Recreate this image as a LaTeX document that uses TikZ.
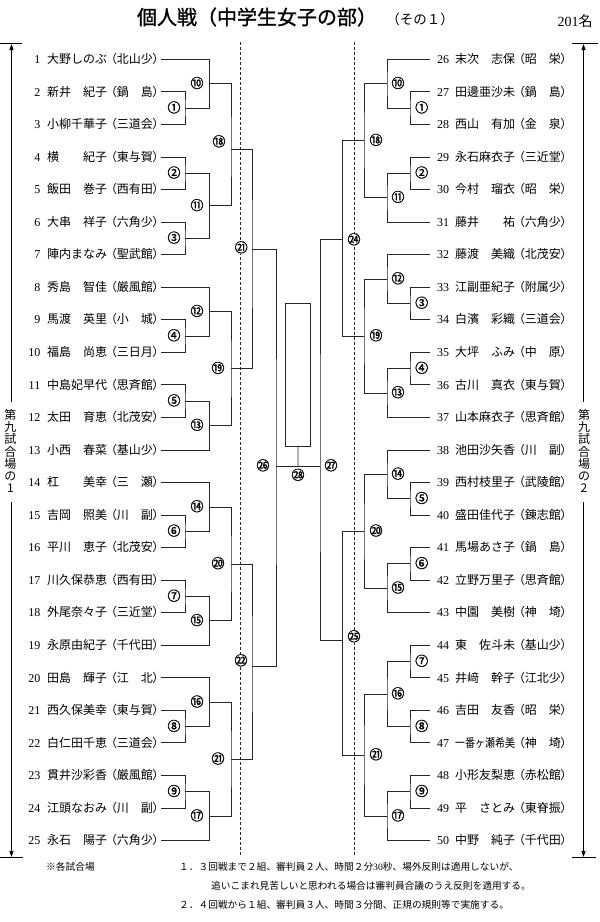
\documentclass[tikz,border=0pt]{standalone}
\usepackage{fontspec}
\usepackage{graphicx}
\setmainfont{Liberation Serif}
\newfontfamily\jp{Noto Sans CJK JP}
\newfontfamily\jpp[RawFeature=+palt]{Noto Sans CJK JP}
\newfontfamily\jpl[FakeBold=1.2]{Noto Sans CJK JP}
\usetikzlibrary{arrows.meta}
\newcommand{\clb}[1]{{\jpp （}#1{\jpp ）}}
\begin{document}
\begin{tikzpicture}[x=1pt,y=-1pt,
  br/.style={line width=0.8pt,black!85},
  dsh/.style={line width=0.8pt,black!85,dash pattern=on 3pt off 2pt},
  num/.style={font=\fontsize{12}{12}\selectfont,inner sep=0pt,text height=8.5pt,text depth=0pt},
  nm/.style={font=\jp\fontsize{12}{12}\selectfont,inner sep=0pt,text height=9.5pt,text depth=1pt},
  lbl/.style={font=\jpl\fontsize{13}{13}\selectfont,inner sep=-2pt,circle,fill=white,text height=10pt,text depth=1.5pt},
  arr/.style={line width=0.8pt,black,-{Triangle[length=6pt,width=4pt]}}]
\useasboundingbox (0,0) rectangle (600,922);

% title
\node[font=\jpl\fontsize{20}{20}\selectfont,inner sep=0pt] (title) at (257,17) {個人戦（中学生女子の部）};
\node[font=\jp\fontsize{13.5}{13.5}\selectfont,inner sep=0pt] (sub) at (420,19) {（その１）};
\node[font=\jp\fontsize{14}{14}\selectfont,inner sep=0pt] (cnt) at (575,21) {{\rmfamily 201}名};

% left entries
\foreach \i/\n/\c in {1/大野しのぶ/北山少,2/新井　紀子/鍋　島,3/小柳千華子/三道会,4/横　　紀子/東与賀,5/飯田　巻子/西有田,6/大串　祥子/六角少,7/陣内まなみ/聖武館,8/秀島　智佳/厳風館,9/馬渡　英里/小　城,10/福島　尚恵/三日月,11/中島妃早代/思斉館,12/太田　育恵/北茂安,13/小西　春菜/基山少,14/杠　　美幸/三　瀬,15/吉岡　照美/川　副,16/平川　恵子/北茂安,17/川久保恭恵/西有田,18/外尾奈々子/三近堂,19/永原由紀子/千代田,20/田島　輝子/江　北,21/西久保美幸/東与賀,22/白仁田千恵/三道会,23/貫井沙彩香/厳風館,24/江頭なおみ/川　副,25/永石　陽子/六角少}{
  \pgfmathsetmacro\y{59.3+(\i-1)*32.55}
  \node[num,anchor=east] (nl\i) at (40.5,\y) {\i};
  \node[nm,anchor=west] (tl\i) at (47,\y) {\n};
  \node[nm,anchor=east] (cl\i) at (159,\y) {\clb{\c}};
  \coordinate (L\i) at (160.5,\y);
}
% right entries
\foreach \i/\n/\c in {26/末次　志保/昭　栄,27/田邊亜沙未/鍋　島,28/西山　有加/金　泉,29/永石麻衣子/三近堂,30/今村　瑠衣/昭　栄,31/藤井　　祐/六角少,32/藤渡　美織/北茂安,33/江副亜紀子/附属少,34/白濱　彩織/三道会,35/大坪　ふみ/中　原,36/古川　真衣/東与賀,37/山本麻衣子/思斉館,38/池田沙矢香/川　副,39/西村枝里子/武陵館,40/盛田佳代子/錬志館,41/馬場あさ子/鍋　島,42/立野万里子/思斉館,43/中園　美樹/神　埼,44/東　佐斗未/基山少,45/井﨑　幹子/江北少,46/吉田　友香/昭　栄,47/{\scalebox{0.83}[1]{一番ヶ瀬希美}}/神　埼,48/小形友梨恵/赤松館,49/平　さとみ/東脊振,50/中野　純子/千代田}{
  \pgfmathsetmacro\y{59.3+(\i-26)*32.55}
  \node[num,anchor=west] (nr\i) at (437,\y) {\i};
  \node[nm,anchor=west] (tr\i) at (455,\y) {\n};
  \node[nm,anchor=east] (cr\i) at (567,\y) {\clb{\c}};
  \coordinate (R\i) at (430,\y);
}

% match points
\foreach \m/\x/\y in {m1/185/108.1,m2/185/173.2,m3/185/238.3,m4/185/336.0,m5/185/401.1,m6/185/531.3,m7/185/596.4,m8/185/726.6,m9/185/791.7,
  m10/209.5/83.7,m11/209.5/205.8,m12/209.5/311.6,m13/209.5/425.5,m14/209.5/506.9,m15/209.5/620.8,m16/209.5/702.2,m17/209.5/816.1,
  m18/231/149,m19/231/368.6,m20/231/563.9,m21/231/759.2,m21b/252/249,m22/252/666,m26/276/466,
  r1/410/108.1,r2/410/173.2,r3/410/303.4,r4/410/368.5,r5/410/498.7,r6/410/563.8,r7/410/661.5,r8/410/726.6,r9/410/791.7,
  r10/387/83.7,r11/387/197.6,r12/387/279.0,r13/387/392.9,r14/387/474.3,r15/387/588.2,r16/387/694.0,r17/387/816.1,
  r18/364/140.6,r19/364/336.0,r20/364/531.2,r21/364/755.0,r24/342.7/239,r25/342.7/640,r27/320/466,fc/298/466}
  {\coordinate (\m) at (\x,\y);}

% dashed guide lines
\coordinate (dl0) at (240.7,42); \coordinate (dl1) at (240.7,856);
\coordinate (dr0) at (354,42); \coordinate (dr1) at (354,856);
\draw[dsh] (dl0) -- (dl1);
\draw[dsh] (dr0) -- (dr1);

% brackets
\foreach \m/\a/\b in {m1/L2/L3,m2/L4/L5,m3/L6/L7,m4/L9/L10,m5/L11/L12,m6/L15/L16,m7/L17/L18,m8/L21/L22,m9/L23/L24,
  m10/L1/m1,m11/m2/m3,m12/L8/m4,m13/m5/L13,m14/L14/m6,m15/m7/L19,m16/L20/m8,m17/m9/L25,
  m18/m10/m11,m19/m12/m13,m20/m14/m15,m21/m16/m17,m21b/m18/m19,m22/m20/m21,m26/m21b/m22,
  r1/R27/R28,r2/R29/R30,r3/R33/R34,r4/R35/R36,r5/R39/R40,r6/R41/R42,r7/R44/R45,r8/R46/R47,r9/R48/R49,
  r10/R26/r1,r11/r2/R31,r12/R32/r3,r13/r4/R37,r14/R38/r5,r15/r6/R43,r16/r7/r8,r17/r9/R50,
  r18/r10/r11,r19/r12/r13,r20/r14/r15,r21/r16/r17,r24/r18/r19,r25/r20/r21,r27/r24/r25}
  {\draw[br] (\a) -| (\m) |- (\b);}
\draw[br] (m26) -- (r27);

% final box
\node[draw,line width=0.8pt,black!85,minimum width=25.7pt,minimum height=143pt,inner sep=0pt] (box) at (297.9,374.7) {};
\draw[br] (fc) -- (box.south);

% match labels
\foreach \t/\x/\y [count=\k] in {①/174/108.1,②/174/173.2,③/174/238.3,④/174/336.0,⑤/174/401.1,⑥/174/531.3,⑦/174/596.4,⑧/174/726.6,⑨/174/791.7,
  ⑩/197/83.7,⑪/197/205.8,⑫/197/311.6,⑬/197/425.5,⑭/197/506.9,⑮/197/620.8,⑯/197/702.2,⑰/197/816.1,
  ⑱/219/142,⑲/218/368.6,⑳/218/563.9,㉑/218/759.2,㉑/241.2/248,㉒/241/661,㉖/263/466,㉘/298/475.5,
  ①/421.7/108.1,②/421.7/173.2,③/421.7/303.4,④/421.7/368.5,⑤/421.7/498.7,⑥/421.7/563.8,⑦/421.7/661.5,⑧/421.7/726.6,⑨/421.7/791.7,
  ⑩/398/83.7,⑪/398/197.6,⑫/398/279.0,⑬/398/392.9,⑭/398/474.3,⑮/398/588.2,⑯/398/694.0,⑰/398/816.1,
  ⑱/376/140.6,⑲/376/336.0,⑳/376/531.2,㉑/376/755.0,㉔/354/240,㉕/354/637,㉗/331/466}
  {\node[lbl] (lab\k) at (\x,\y) {\t};}

% side labels and arrows
\node[font=\jp\fontsize{12}{12.3}\selectfont,align=center,inner sep=0pt] (sideL) at (10.5,451) {第\\九\\試\\合\\場\\の\\1};
\node[font=\jp\fontsize{12}{12.3}\selectfont,align=center,inner sep=0pt] (sideR) at (584,451) {第\\九\\試\\合\\場\\の\\2};
\coordinate (la0) at (11.5,44); \coordinate (la1) at (11.5,402); \coordinate (la2) at (11.5,502); \coordinate (la3) at (11.5,857);
\coordinate (ra0) at (583.5,44); \coordinate (ra1) at (583.5,402); \coordinate (ra2) at (583.5,502); \coordinate (ra3) at (583.5,857);
\draw[arr] (la1) -- (la0);
\draw[arr] (la2) -- (la3);
\draw[arr] (ra1) -- (ra0);
\draw[arr] (ra2) -- (ra3);
\draw[line width=0.8pt] (0,43.5) -- (22,43.5);
\draw[line width=0.8pt] (0,857.5) -- (23,857.5);
\draw[line width=0.8pt] (572,43.5) -- (598,43.5);
\draw[line width=0.8pt] (572,857.5) -- (596,857.5);

% notes
\begin{scope}[every node/.style={font=\jp\fontsize{9.7}{9.7}\selectfont,inner sep=0pt,anchor=west}]
\node (n0) at (46,867) {※各試合場};
\node (n1) at (179,867) {１．３回戦まで２組、審判員２人、時間２分{\rmfamily 30}秒、場外反則は適用しないが、};
\node (n2) at (211,886) {追いこまれ見苦しいと思われる場合は審判員合議のうえ反則を適用する。};
\node (n3) at (179,905) {２．４回戦から１組、審判員３人、時間３分間、正規の規則等で実施する。};
\end{scope}
\end{tikzpicture}
\end{document}
